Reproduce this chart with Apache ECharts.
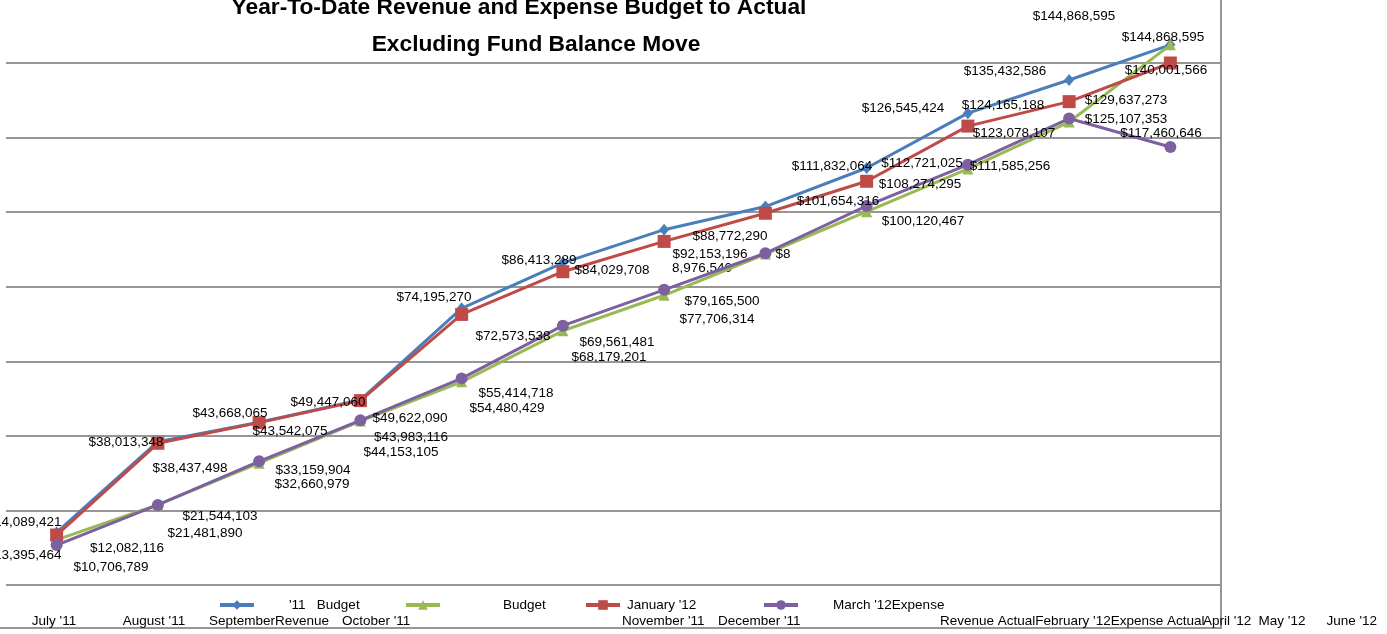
<!DOCTYPE html>
<html>
<head>
<meta charset="utf-8">
<title>Year-To-Date Revenue and Expense Budget to Actual</title>
<script src="https://cdn.jsdelivr.net/npm/echarts@6/dist/echarts.min.js"></script>
<style>
  html, body { margin: 0; padding: 0; background: #fff; }
  #chart { width: 1387px; height: 634px; }
</style>
</head>
<body>
<div id="chart"></div>
<script>
// x axis categories
const months = ["July '11", "August '11", "September '11", "October '11", "November '11", "December '11",
  "January '12", "February '12", "March '12", "April '12", "May '12", "June '12"]

// year-to-date totals in $ (Jan/Feb revenue budget and Feb revenue actual have no label, estimated)
const revenueBudget = [14089421, 38437498, 43668065, 49622090, 74195270, 86413289, 95300000, 101500000, 111832064, 126545424, 135432586, 144868595]
const expenseBudget = [12082116, 21544103, 32660979, 43983116, 54480429, 68179201, 77706314, 88772290, 100120467, 111585256, 124165188, 144868595]
const revenueActual = [13395464, 38013348, 43542075, 49447060, 72573538, 84029708, 92153196, 99700000, 108274295, 123078107, 129637273, 140001566]
const expenseActual = [10706789, 21481890, 33159904, 44153105, 55414718, 69561481, 79165500, 88976540, 101654316, 112721025, 125107353, 117460646]

// y axis ticks ($); the top tick row of the source is cut off, so the grid stops at 140M
const yMin = 0
const yMax = 140000000
const yStep = 20000000

// where each data label sits on the page (centre, px); null = no label shown
const revBudgetLabelAt = [[24, 522], [190, 468], [230, 413], [410, 418], [434, 297], [539, 260], null, null, [832, 166], [903, 108], [1005, 71], [1074, 16]]
const expBudgetLabelAt = [[127, 548], [220, 516], [312, 484], [411, 437], [507, 408], [609, 357], [717, 319], [730, 236], [923, 221], [1010, 166], [1003, 105], [1163, 37]]
const revActualLabelAt = [[24, 555], [126, 442], [290, 431], [328, 402], [513, 336], [612, 270], [710, 254], null, [920, 184], [1014, 133], [1126, 100], [1166, 70]]
const expActualLabelAt = [[111, 567], [205, 533], [313, 470], [401, 452], [516, 393], [617, 342], [722, 301], [783, 254], [838, 201], [922, 163], [1126, 119], [1161, 133]]

const FONT = 'Liberation Sans'
const FS = 13.5
const GRID_COLOR = '#969696'

const money = v => '$' + v.toLocaleString('en-US')

const seriesDefs = [
  {name: 'Revenue Budget', values: revenueBudget, labelAt: revBudgetLabelAt, color: '#4a7ebb', symbol: 'diamond', symbolSize: [10, 12]},
  {name: 'Expense Budget', values: expenseBudget, labelAt: expBudgetLabelAt, color: '#98b954', symbol: 'triangle', symbolSize: 11},
  {name: 'Revenue Actual', values: revenueActual, labelAt: revActualLabelAt, color: '#be4b48', symbol: 'rect', symbolSize: 13},
  // the source split one label: "$8" by the point, the rest drawn below-left (see graphic)
  {name: 'Expense Actual', values: expenseActual, labelAt: expActualLabelAt, color: '#7d60a0', symbol: 'circle', symbolSize: 12, labelText: {7: '$8'}}
]

// legend row as it appears (texts got mixed up with the axis labels in the source)
const legendItems = [
  {name: 'Revenue Budget', text: "'11   Budget", left: 218, pad: 30},
  {name: 'Expense Budget', text: 'Budget', left: 404, pad: 58},
  {name: 'Revenue Actual', text: "January '12", left: 584, pad: 2},
  {name: 'Expense Actual', text: "March '12Expense", left: 762, pad: 30}
]

// bottom text row: [text, x, align]
const bottomRow = [
  ["July '11", 54, 'center'], ["August '11", 154, 'center'], ['SeptemberRevenue', 209, 'left'],
  ["October '11", 342, 'left'], ["November '11", 622, 'left'], ["December '11", 718, 'left'],
  ["Revenue ActualFebruary '12Expense Actual", 940, 'left'],
  ["April '12", 1203, 'left'], ["May '12", 1282, 'center'], ["June '12", 1377, 'right']
]

const text = (str, x, y, font, align) => ({
  type: 'text', x, y, silent: true,
  style: {text: str, font, fill: '#000', textAlign: align || 'left', align: align || 'left', textVerticalAlign: 'middle', verticalAlign: 'middle'}
})

const chart = echarts.init(document.getElementById('chart'))

chart.setOption({
  animation: false,
  backgroundColor: '#fff',
  textStyle: {fontFamily: FONT},
  grid: {left: 6, right: 166, top: 63, bottom: 49, containLabel: false},
  xAxis: {
    type: 'category',
    data: months,
    boundaryGap: true,
    axisLine: {show: false},
    axisTick: {show: false},
    axisLabel: {show: false}
  },
  yAxis: {
    type: 'value',
    min: yMin,
    max: yMax,
    interval: yStep,
    axisLine: {show: false},
    axisTick: {show: false},
    axisLabel: {show: false},
    splitLine: {lineStyle: {color: GRID_COLOR, width: 2}}
  },
  legend: legendItems.map(l => ({
    data: [l.name],
    left: l.left,
    top: 598,
    padding: 0,
    itemWidth: 34,
    itemHeight: 12,
    selectedMode: false,
    lineStyle: {width: 4},
    formatter: () => l.text,
    textStyle: {fontFamily: FONT, fontSize: FS, color: '#000', padding: [0, 0, 0, l.pad]}
  })),
  series: seriesDefs.map(d => ({
    type: 'line',
    name: d.name,
    data: d.values,
    color: d.color,
    clip: false,
    symbol: d.symbol,
    symbolSize: d.symbolSize,
    showAllSymbol: true,
    lineStyle: {width: 3, color: d.color},
    itemStyle: {color: d.color},
    emphasis: {disabled: true},
    label: {show: false, position: 'inside', color: '#000', fontFamily: FONT, fontSize: FS}
  })),
  graphic: [
    text('Year-To-Date Revenue and Expense Budget to Actual', 519, 8, 'bold 22.75px ' + FONT, 'center'),
    text('Excluding Fund Balance Move', 536, 45, 'bold 22.75px ' + FONT, 'center'),
    {type: 'polyline', silent: true, shape: {points: [[0, 628], [1221, 628], [1221, 0]]}, style: {stroke: GRID_COLOR, lineWidth: 2, fill: null}},
    text('8,976,540', 702, 268, FS + 'px ' + FONT, 'center'),
    ...bottomRow.map(([t, x, a]) => text(t, x, 621, FS + 'px ' + FONT, a))
  ]
})

// place each label at its anchor: offset from the point the axes put it at
chart.setOption({
  series: seriesDefs.map((d, s) => ({
    data: d.values.map((v, i) => {
      const at = d.labelAt[i]
      if (!at) return v
      const p = chart.convertToPixel({seriesIndex: s}, [i, v])
      return {
        value: v,
        label: {
          show: true,
          offset: [at[0] - p[0], at[1] - p[1]],
          formatter: (d.labelText && d.labelText[i]) || money(v)
        }
      }
    })
  }))
})

window.addEventListener('resize', () => chart.resize())
</script>
</body>
</html>
